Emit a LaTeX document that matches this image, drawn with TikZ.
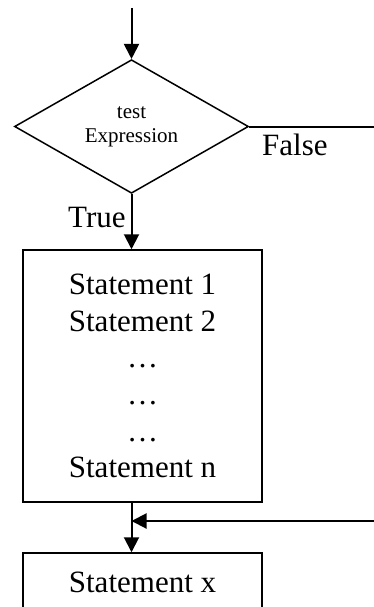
\documentclass[tikz,border=0pt]{standalone}
\usepackage{fontspec}
\setmainfont{Liberation Serif}
\usetikzlibrary{shapes.geometric,arrows.meta}
\begin{document}
\begin{tikzpicture}[x=1pt,y=-1pt,
  flow/.style={line width=2pt,-{Triangle[length=15pt,width=15pt]}},
  plain/.style={line width=2pt},
  decision/.style={diamond,draw,line width=1.5pt,inner sep=0pt,
    minimum width=234pt,minimum height=129pt,align=center,
    font=\fontsize{21}{24}\selectfont},
  block/.style={rectangle,draw,line width=1.5pt,inner sep=0pt,
    minimum width=239pt,align=center,font=\fontsize{31}{36.6}\selectfont},
  label/.style={font=\fontsize{31}{36.6}\selectfont,inner sep=0pt}]
\useasboundingbox (0,0) rectangle (374,607);

% decision
\coordinate (in) at (131.5,8);
\node[decision] (d) at (131.5,126.5) {test\\Expression};
\draw[flow] (in) -- (d.north);

% false branch leaves to the right
\coordinate (fout) at (374,126.5);
\draw[plain] (d.east) -- (fout);
\node[label,anchor=base west] (fl) at (262,155) {False};

% loop body
\node[block,minimum height=252pt] (b1) at (142.5,376)
  {Statement 1\\Statement 2\\\dots\\\dots\\\dots\\Statement n};
\draw[flow] (d.south) -- (d.south |- b1.north);
\node[label,anchor=base west] (tl) at (68,227) {True};

% next statement
\node[block,minimum height=59pt] (b2) at (142.5,582.5) {Statement x};
\coordinate (ret) at (374,521);
\draw[flow] (d.south |- b1.south) -- (d.south |- b2.north);
\draw[flow] (ret) -- (ret -| d.south);
\end{tikzpicture}
\end{document}
